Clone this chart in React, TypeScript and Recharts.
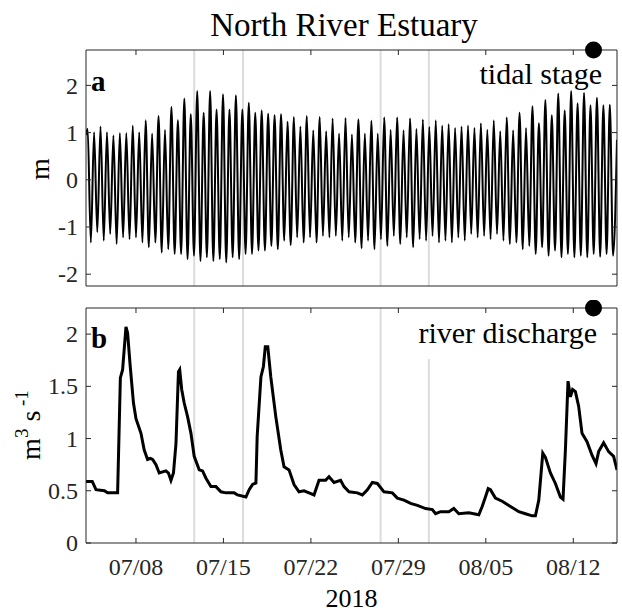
import React from 'react';
import { LineChart, Line, XAxis, YAxis, ReferenceLine, ReferenceDot } from 'recharts';

// x values are days counted from 07/01/2018 00:00 (so 07/04 = 4, 08/12 = 43)
const dayTicks = [8, 15, 22, 29, 36, 43];
const dayLabels = ['07/08', '07/15', '07/22', '07/29', '08/05', '08/12'];

const tideTicks = [-2, -1, 0, 1, 2];
const flowTicks = [0, 0.5, 1, 1.5, 2];

// tidal stage (m): successive high and low waters
const firstHighDay = 4.13;
const tidePeriod = 0.516;
const tideStartLevel = 0.95;
const tideEndLevel = 0.85;
const highWater = [
  1.08, 1.01, 1.13, 1.01, 0.94, 0.99, 0.99, 1.15, 1.01, 1.26,
  0.98, 1.35, 1.06, 1.54, 1.26, 1.72, 1.39, 1.88, 1.42, 1.88,
  1.49, 1.81, 1.49, 1.79, 1.49, 1.63, 1.42, 1.47, 1.4, 1.37,
  1.39, 1.23, 1.33, 1.13, 1.35, 1.05, 1.33, 1.03, 1.3, 0.98,
  1.31, 0.96, 1.28, 0.98, 1.25, 0.98, 1.32, 1.06, 1.32, 1.05,
  1.3, 1.08, 1.28, 1.12, 1.26, 1.15, 1.18, 1.1, 1.13, 1.15,
  1.1, 1.2, 1.06, 1.26, 1.03, 1.32, 1.05, 1.42, 1.1, 1.56,
  1.2, 1.69, 1.37, 1.83, 1.47, 1.88, 1.62, 1.84, 1.58, 1.74,
  1.58, 1.59,
];
const lowWater = [
  -1.33, -1.11, -1.29, -1.15, -1.36, -1.22, -1.26, -1.22, -1.33, -1.43,
  -1.33, -1.54, -1.47, -1.57, -1.57, -1.68, -1.61, -1.72, -1.64, -1.72,
  -1.68, -1.75, -1.64, -1.68, -1.57, -1.57, -1.5, -1.5, -1.4, -1.47,
  -1.29, -1.38, -1.22, -1.33, -1.22, -1.33, -1.19, -1.22, -1.19, -1.29,
  -1.22, -1.33, -1.45, -1.29, -1.47, -1.26, -1.4, -1.19, -1.36, -1.22,
  -1.43, -1.26, -1.29, -1.19, -1.33, -1.29, -1.33, -1.22, -1.29, -1.15,
  -1.22, -1.19, -1.26, -1.15, -1.29, -1.36, -1.33, -1.47, -1.4, -1.57,
  -1.43, -1.61, -1.5, -1.64, -1.57, -1.64, -1.61, -1.64, -1.57, -1.63,
  -1.57, -1.61,
];

// river discharge (m3/s), panel b
const flowDays = [
  4.0, 4.5, 4.8, 5.47, 5.73, 6.53, 6.75, 6.93, 7.2, 7.33,
  7.54, 7.8, 8.0, 8.4, 8.66, 8.93, 9.15, 9.33, 9.6, 9.86,
  10.4, 10.6, 10.8, 11.0, 11.2, 11.4, 11.5, 11.66, 11.86, 12.13,
  12.4, 12.66, 13.06, 13.33, 13.6, 14.0, 14.4, 14.8, 15.2, 15.86,
  16.13, 16.8, 17.06, 17.33, 17.6, 17.7, 18.0, 18.2, 18.35, 18.55,
  18.79, 19.19, 19.59, 19.85, 20.25, 20.65, 21.05, 21.45, 21.85, 22.25,
  22.65, 23.18, 23.45, 23.85, 24.38, 24.65, 25.05, 25.72, 26.12, 26.52,
  26.92, 27.32, 27.85, 28.52, 28.92, 29.45, 29.98, 30.52, 31.18, 31.72,
  31.98, 32.38, 33.04, 33.44, 33.84, 34.64, 35.44, 35.71, 35.97, 36.19,
  36.37, 36.77, 37.31, 37.97, 38.64, 39.17, 39.71, 39.97, 40.24, 40.56,
  40.77, 41.17, 41.57, 41.97, 42.18, 42.37, 42.58, 42.77, 42.95, 43.17,
  43.43, 43.7, 44.1, 44.5, 44.82, 45.03, 45.43, 45.83, 46.23, 46.5,
];
const flowValues = [
  0.59, 0.59, 0.51, 0.5, 0.48, 0.48, 1.58, 1.66, 2.07, 2.01,
  1.69, 1.34, 1.19, 1.05, 0.89, 0.8, 0.81, 0.8, 0.75, 0.67,
  0.69, 0.67, 0.6, 0.67, 0.95, 1.64, 1.66, 1.47, 1.34, 1.21,
  1.05, 0.83, 0.7, 0.69, 0.62, 0.54, 0.54, 0.49, 0.48, 0.48,
  0.46, 0.44, 0.51, 0.56, 0.575, 1.02, 1.59, 1.69, 1.88, 1.88,
  1.59, 1.21, 0.89, 0.73, 0.7, 0.56, 0.49, 0.5, 0.48, 0.46,
  0.6, 0.6, 0.635, 0.58, 0.6, 0.54, 0.49, 0.48, 0.46, 0.51,
  0.58, 0.57, 0.49, 0.48, 0.43, 0.41, 0.38, 0.36, 0.33, 0.32,
  0.28, 0.3, 0.3, 0.33, 0.28, 0.29, 0.27, 0.35, 0.44, 0.52,
  0.51, 0.43, 0.4, 0.35, 0.3, 0.28, 0.26, 0.26, 0.41, 0.86,
  0.82, 0.67, 0.57, 0.44, 0.42, 0.89, 1.55, 1.4, 1.47, 1.45,
  1.31, 1.05, 0.97, 0.84, 0.76, 0.875, 0.96, 0.875, 0.83, 0.7,
];

// grey event markers and the black dot
const markerDays = [12.66, 16.57, 27.58, 31.44];
const partialMarkerTop = 1.76;
const dotDay = 44.62;

const FONT = '"Liberation Serif", "Times New Roman", Times, serif';
const AXIS = '#262626';
const GREY = '#dcdcdc';

const tideData: { day: number; level: number }[] = [{ day: 4, level: tideStartLevel }];
highWater.forEach((h, i) => {
  const t = firstHighDay + i * tidePeriod;
  tideData.push({ day: t, level: h });
  tideData.push({ day: t + tidePeriod / 2, level: lowWater[i] });
});
tideData.push({ day: 46.5, level: tideEndLevel });

const flowData = flowDays.map((d, i) => ({ day: d, flow: flowValues[i] }));

const noLabel = () => '';

// serif tick labels drawn explicitly so the font is always applied
const DateTick = (props: any) => {
  const v = props.payload?.value;
  const label = dayLabels[dayTicks.indexOf(v)] ?? '';
  return (
    <text x={props.x} y={props.y} dy="0.72em" textAnchor="middle" fontFamily={FONT} fontSize={24} fill={AXIS}>
      {label}
    </text>
  );
};

const ValueTick = (props: any) => (
  <text x={props.x} y={props.y} dy="0.34em" textAnchor="end" fontFamily={FONT} fontSize={24} fill={AXIS}>
    {String(props.payload?.value)}
  </text>
);

function frame(yTicks: number[], yDomain: number[], topH: number, bottomH: number, showDates: boolean) {
  return [
    <XAxis
      key="xb"
      xAxisId="b"
      type="number"
      dataKey="day"
      domain={[4, 46.5]}
      allowDataOverflow
      ticks={dayTicks}
      tickFormatter={showDates ? undefined : noLabel}
      tickSize={-5}
      tickMargin={20}
      height={bottomH}
      stroke={AXIS}
      tick={showDates ? <DateTick /> : false}
      label={showDates ? { value: '2018', position: 'insideBottom', offset: 6, fill: '#000', fontSize: 26, fontFamily: FONT } : undefined}
    />,
    <XAxis
      key="xt"
      xAxisId="t"
      orientation="top"
      type="number"
      dataKey="day"
      domain={[4, 46.5]}
      allowDataOverflow
      ticks={dayTicks}
      tickFormatter={noLabel}
      tickSize={-5}
      height={topH}
      stroke={AXIS}
    />,
    <YAxis
      key="yl"
      yAxisId="l"
      type="number"
      domain={yDomain}
      allowDataOverflow
      ticks={yTicks}
      tickSize={-5}
      tickMargin={13}
      width={86}
      stroke={AXIS}
      tick={<ValueTick />}
      interval={0}
    />,
    <YAxis
      key="yr"
      yAxisId="r"
      orientation="right"
      type="number"
      domain={yDomain}
      allowDataOverflow
      ticks={yTicks}
      tickFormatter={noLabel}
      tickSize={-5}
      width={5}
      stroke={AXIS}
    />,
  ];
}

export default function App() {
  return (
    <div
      style={{
        position: 'absolute',
        left: 0,
        top: 0,
        width: 622,
        height: 613,
        background: '#fff',
        overflow: 'hidden',
        fontFamily: FONT,
      }}
    >
      <div style={{ position: 'absolute', left: 0, top: 0 }}>
        <LineChart width={622} height={300} data={tideData} margin={{ top: 0, right: 0, bottom: 0, left: 0 }}>
          {frame(tideTicks, [-2.25, 2.75], 50, 14, false)}
          {markerDays.map((d, i) => (
            <ReferenceLine key={i} xAxisId="b" yAxisId="l" x={d} stroke={GREY} strokeWidth={2} />
          ))}
          <Line
            xAxisId="b"
            yAxisId="l"
            type="monotone"
            dataKey="level"
            stroke="#000"
            strokeWidth={2}
            dot={false}
            isAnimationActive={false}
          />
          <ReferenceDot xAxisId="b" yAxisId="l" x={dotDay} y={2.75} r={8.5} fill="#000" stroke="none" ifOverflow="visible" />
        </LineChart>
      </div>
      <div style={{ position: 'absolute', left: 0, top: 300 }}>
        <LineChart width={622} height={313} data={flowData} margin={{ top: 0, right: 0, bottom: 0, left: 0 }}>
          {frame(flowTicks, [0, 2.25], 8, 70, true)}
          {markerDays.slice(0, 3).map((d, i) => (
            <ReferenceLine key={i} xAxisId="b" yAxisId="l" x={d} stroke={GREY} strokeWidth={2} />
          ))}
          <ReferenceLine
            xAxisId="b"
            yAxisId="l"
            segment={[{ x: markerDays[3], y: 0 }, { x: markerDays[3], y: partialMarkerTop }]}
            stroke={GREY}
            strokeWidth={2}
          />
          <Line
            xAxisId="b"
            yAxisId="l"
            type="linear"
            dataKey="flow"
            stroke="#000"
            strokeWidth={3}
            dot={false}
            isAnimationActive={false}
          />
          <ReferenceDot xAxisId="b" yAxisId="l" x={dotDay} y={2.25} r={8.5} fill="#000" stroke="none" ifOverflow="visible" />
        </LineChart>
      </div>
      <svg width={622} height={613} style={{ position: 'absolute', left: 0, top: 0, pointerEvents: 'none' }} fontFamily={FONT}>
        <text x={344} y={36} textAnchor="middle" fontSize={33} fill="#000">North River Estuary</text>
        <text x={91} y={91} fontSize={29} fontWeight="bold" fill="#000">a</text>
        <text x={602} y={84} textAnchor="end" fontSize={30} fill="#000">tidal stage</text>
        <text x={91} y={348} fontSize={29} fontWeight="bold" fill="#000">b</text>
        <text x={597} y={343} textAnchor="end" fontSize={30} fill="#000">river discharge</text>
        <text transform="translate(49,169) rotate(-90)" textAnchor="middle" fontSize={28} fill="#000">m</text>
        <text transform="translate(40,425) rotate(-90)" textAnchor="middle" fontSize={28} fill="#000">
          m<tspan dy={-12} fontSize={19}>3</tspan>
          <tspan dy={12}> s</tspan>
          <tspan dy={-12} fontSize={19}> -1</tspan>
        </text>
      </svg>
    </div>
  );
}
